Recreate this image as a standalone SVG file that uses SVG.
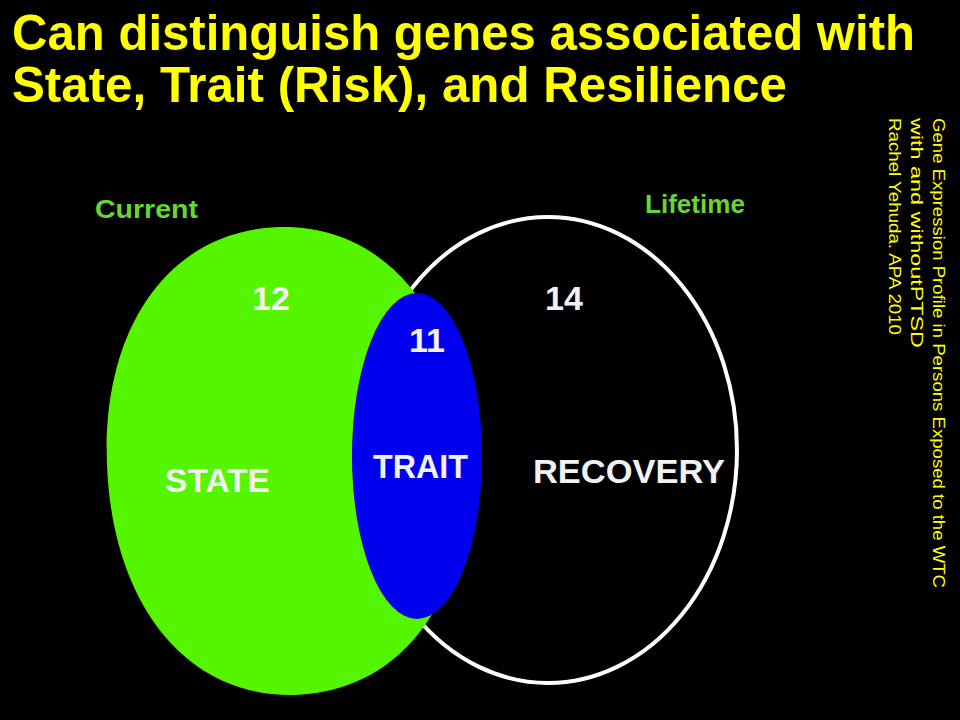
<svg xmlns="http://www.w3.org/2000/svg" width="960" height="720" viewBox="0 0 960 720">
<defs>
<style>
.title{font-family:"Liberation Sans",Arial,sans-serif;font-weight:bold;font-size:50px;fill:#ffff00;}
.set{font-family:"Liberation Sans",Arial,sans-serif;font-weight:bold;font-size:26px;fill:#66d633;}
.lbl{font-family:"Liberation Sans",Arial,sans-serif;font-weight:bold;font-size:34px;fill:#f2f2f2;}
.cite{font-family:"Liberation Sans",Arial,sans-serif;font-size:17px;fill:#ffff00;}
</style>
<filter id="glow" x="-10%" y="-10%" width="120%" height="120%">
<feGaussianBlur stdDeviation="1.2"/>
</filter>
</defs>
<rect x="0" y="0" width="960" height="720" fill="#000000"/>
<g id="title">
<text class="title" x="12" y="50" textLength="903" lengthAdjust="spacingAndGlyphs">Can distinguish genes associated with</text>
<text class="title" x="12" y="102" textLength="775" lengthAdjust="spacingAndGlyphs">State, Trait (Risk), and Resilience</text>
</g>
<g id="lifetime-set">
<ellipse cx="548" cy="450" rx="189" ry="233" fill="#000000" stroke="#ffffff" stroke-width="4"/>
</g>
<g id="current-set">
<path transform="rotate(-3 287 461)" d="M 287 227 C 395 227, 467 321, 467 461 C 467 601, 395 695, 287 695 C 179 695, 107 601, 107 461 C 107 321, 179 227, 287 227 Z" fill="#55f500"/>
</g>
<g id="trait-set">
<ellipse cx="417" cy="456" rx="65" ry="163" fill="#0000ee"/>
</g>
<g id="labels">
<text class="set" x="95" y="218" textLength="103" lengthAdjust="spacingAndGlyphs">Current</text>
<text class="set" x="645" y="213" textLength="100" lengthAdjust="spacingAndGlyphs">Lifetime</text>
<text class="lbl" x="271" y="310" text-anchor="middle">12</text>
<text class="lbl" x="564" y="310" text-anchor="middle">14</text>
<text class="lbl" x="427" y="352" text-anchor="middle">11</text>
<text class="lbl" x="165" y="492" textLength="105" lengthAdjust="spacingAndGlyphs">STATE</text>
<text class="lbl" x="373" y="478" textLength="95" lengthAdjust="spacingAndGlyphs">TRAIT</text>
<text class="lbl" x="533" y="483" textLength="192" lengthAdjust="spacingAndGlyphs">RECOVERY</text>
</g>
<g id="citation">
<text class="cite" transform="translate(933,118) rotate(90)" x="0" y="0" textLength="470" lengthAdjust="spacingAndGlyphs">Gene Expression Profile in Persons Exposed to the WTC</text>
<text class="cite" transform="translate(911,118) rotate(90)" x="0" y="0" textLength="230" lengthAdjust="spacingAndGlyphs">with and withoutPTSD</text>
<text class="cite" transform="translate(889,118) rotate(90)" x="0" y="0" textLength="217" lengthAdjust="spacingAndGlyphs">Rachel Yehuda. APA 2010</text>
</g>
</svg>
